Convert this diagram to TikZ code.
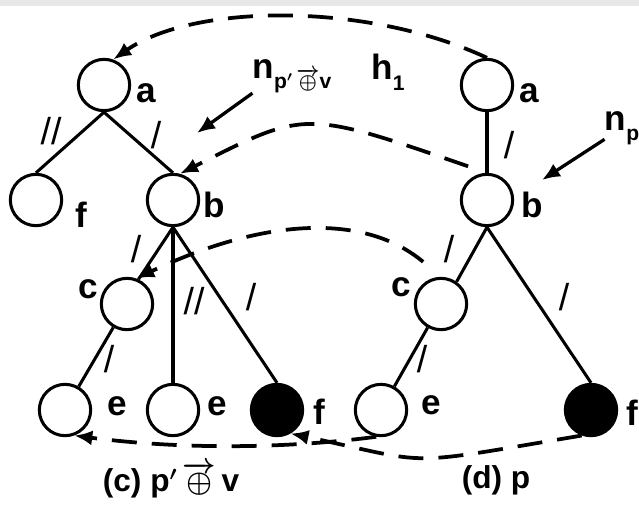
\documentclass[tikz,border=0pt]{standalone}
\usepackage{fontspec}
\setmainfont{Liberation Sans}
\usetikzlibrary{arrows.meta}

\newcommand{\sub}[1]{\raisebox{-0.3em}{\fontsize{18}{18}\selectfont #1}}

\begin{document}
\begin{tikzpicture}[
  x=0.3mm, y=-0.3mm,
  every node/.style={inner sep=0pt},
  vtx/.style={circle, draw, line width=2.6pt, minimum size=15.4mm},
  hit/.style={vtx, fill=black},
  lbl/.style={font=\fontsize{30}{30}\selectfont\bfseries\boldmath},
  captxt/.style={font=\fontsize{27}{27}\selectfont\bfseries\boldmath},
  cut/.style={font=\fontsize{32}{32}\selectfont},
  edge/.style={line width=2.6pt},
  map/.style={line width=3.2pt, dash pattern=on 7.5mm off 4.5mm,
              -{Latex[length=5.4mm, width=4.5mm]}},
  ptr/.style={line width=2.8pt, -{Latex[length=5.4mm, width=4.5mm]}}
]
  \useasboundingbox (0,0) rectangle (639,507);
  \fill[white] (0,0) rectangle (639,507);
  \fill[black!9] (0,0) rectangle (639,6);

  %% left tree
  \node[vtx] (la)  at (104,85)  {};
  \node[vtx] (lf1) at (36,200)  {};
  \node[vtx] (lb)  at (173,200) {};
  \node[vtx] (lc)  at (127,304) {};
  \node[vtx] (le1) at (65,410)  {};
  \node[vtx] (le2) at (173,410) {};
  \node[hit] (lf2) at (277,410) {};

  %% right tree
  \node[vtx] (ra) at (487,85)  {};
  \node[vtx] (rb) at (487,200) {};
  \node[vtx] (rc) at (441,304) {};
  \node[vtx] (re) at (381,410) {};
  \node[hit] (rf) at (591,410) {};

  %% vertex names
  \node[lbl] (la-t)  at (146,93)  {a};
  \node[lbl] (lf1-t) at (81,215)  {f};
  \node[lbl] (lb-t)  at (214,205) {b};
  \node[lbl] (lc-t)  at (88,289)  {c};
  \node[lbl] (le1-t) at (117,406) {e};
  \node[lbl] (le2-t) at (217,406) {e};
  \node[lbl] (lf2-t) at (319,412) {f};
  \node[lbl] (ra-t)  at (529,93)  {a};
  \node[lbl] (rb-t)  at (532,205) {b};
  \node[lbl] (rc-t)  at (401,287) {c};
  \node[lbl] (re-t)  at (431,405) {e};
  \node[lbl] (rf-t)  at (632,413) {f};

  %% tree edges
  \draw[edge] (la.south) -- (lf1.north);
  \draw[edge] (la.south) -- (lb.north);
  \draw[edge] (lb.south) -- (lc.65);
  \draw[edge] (lb.south) -- (le2.north);
  \draw[edge] (lb.south) -- (lf2.north);
  \draw[edge] (lc) -- (le1);
  \draw[edge] (ra) -- (rb);
  \draw[edge] (rb.south) -- (rc.55);
  \draw[edge] (rb.south) -- (rf.north);
  \draw[edge] (rc) -- (re);

  %% axis marks on the edges
  \node[cut] (m1)  at (51,131)  {//};
  \node[cut] (m2)  at (156,135) {/};
  \node[cut] (m3)  at (136,249) {/};
  \node[cut] (m4)  at (194,301) {//};
  \node[cut] (m5)  at (251,297) {/};
  \node[cut] (m6)  at (109,359) {/};
  \node[cut] (m7)  at (509,145) {/};
  \node[cut] (m8)  at (449,249) {/};
  \node[cut] (m9)  at (564,297) {/};
  \node[cut] (m10) at (422,359) {/};

  %% node mapping p -> p'
  \draw[map] (ra.north) .. controls +(-120,-56) and +(80,-56) .. (la.70);
  \draw[map, shorten <=6mm] (rb.north) .. controls +(-183,-63) and +(126,-64) .. (lb.75);
  \draw[map, shorten <=7mm] (rc.north) .. controls +(-74,-62) and +(133,-63) .. (lc.70);
  \draw[map] (re.260) .. controls +(-100,13) and +(100,13) .. (le1.290);
  \draw[map] (rf.250) .. controls +(-185,31) and +(146,31) .. (lf2.300);

  %% pointers
  \node[lbl] (h1) at (388,72) {h\sub{1}};
  \node[lbl] (np1) at (292,76) {n\sub{p$'\,\overrightarrow{\oplus}$v}};
  \node[lbl] (np2) at (622,128) {n\sub{p}};
  \coordinate (lb-in) at (197,133);
  \coordinate (rb-in) at (542,180);
  \draw[ptr] (np1.south west) -- (lb-in);
  \draw[ptr] (np2) -- (rb-in);

  %% captions
  \node[captxt] (cap-c) at (171,480) {(c) p$'\,\overrightarrow{\oplus}$\,v};
  \node[captxt] (cap-d) at (496,480) {(d) p};
\end{tikzpicture}
\end{document}
